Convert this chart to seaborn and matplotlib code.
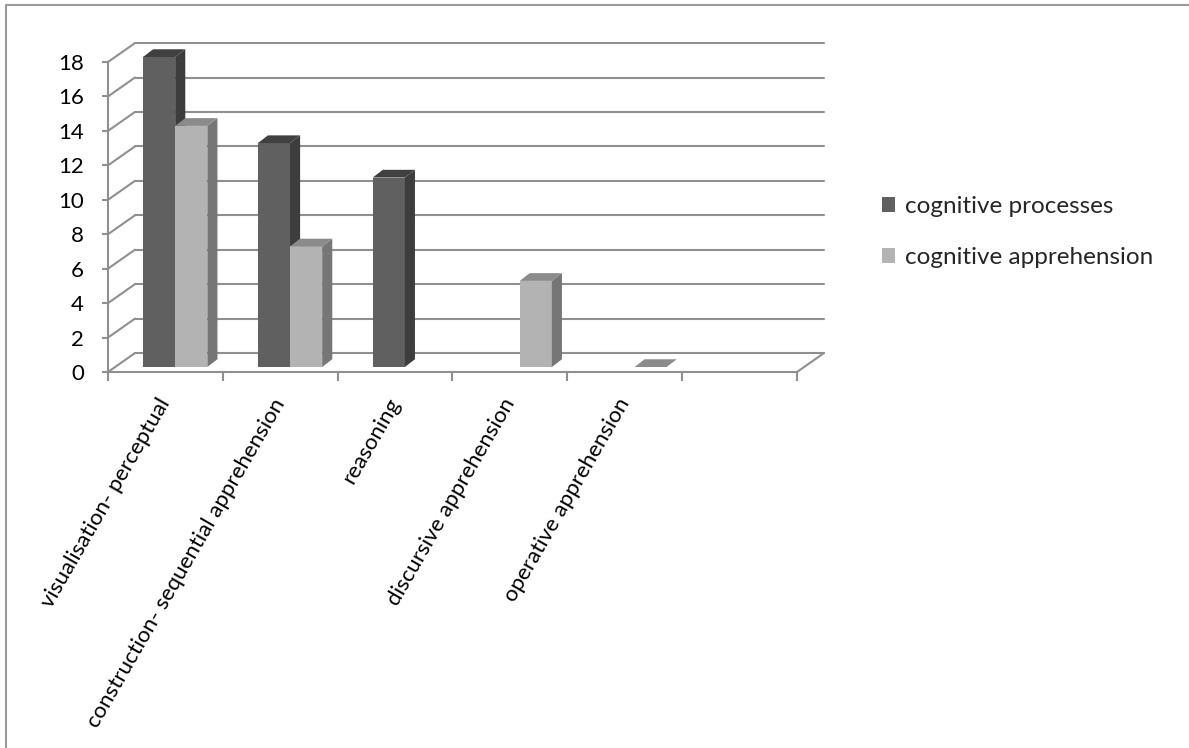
import numpy as np
import pandas as pd
import matplotlib
matplotlib.use("Agg")
import matplotlib.pyplot as plt
from matplotlib.patches import Polygon
from matplotlib.lines import Line2D
from matplotlib.transforms import Affine2D
import seaborn as sns

# ---- data -------------------------------------------------------------
categories = [
    "visualisation- perceptual",
    "construction- sequential apprehension",
    "reasoning",
    "discursive apprehension",
    "operative apprehension",
]
series_names = ["cognitive processes", "cognitive apprehension"]
processes = [18, 13, 11, np.nan, np.nan]
apprehension = [14, 7, np.nan, 5, 0]
y_ticks = list(range(0, 20, 2))

# ---- style ------------------------------------------------------------
sns.set_style("white")
plt.rcParams["font.family"] = ["Lato", "DejaVu Sans"]

GRID = "#8f8f8f"
FRONT = ["#606060", "#b3b3b3"]
SIDE = ["#3d3d3d", "#767676"]
TOP = ["#404040", "#8b8b8b"]
FS_AXIS = 16
FS_LEGEND = 17.5

W, H = 1189, 748
fig = plt.figure(figsize=(W / 100, H / 100), dpi=100)
ax = fig.add_axes([108 / W, (H - 372) / H, 689 / W, 310 / H])

df = pd.DataFrame({
    "category": categories * 2,
    "series": [series_names[0]] * len(categories) + [series_names[1]] * len(categories),
    "count": processes + apprehension,
}).dropna()

sns.barplot(data=df, x="category", y="count", hue="series",
            order=categories, hue_order=series_names,
            palette=FRONT, saturation=1, width=0.56, dodge=True,
            linewidth=0, ax=ax)

n_slots = len(categories) + 1
ax.set_xlim(-0.5, n_slots - 0.5)
ax.set_ylim(0, 18)

# pseudo-3D geometry (in data units)
DX, DY = 0.235, 1.10          # depth of the wall/floor box
SX, SY = 0.085, 0.29          # front face of the columns behind the axis plane
BX, BY = 0.088, 0.45          # thickness of the columns

lw = 1.5
# back wall gridlines and left side wall diagonals
for v in y_ticks:
    ax.add_line(Line2D([-0.5 + DX, n_slots - 0.5 + DX], [v + DY, v + DY],
                       color=GRID, lw=lw, zorder=1, clip_on=False))
    ax.add_line(Line2D([-0.5, -0.5 + DX], [v, v + DY],
                       color=GRID, lw=lw, zorder=1, clip_on=False))
# right edge of the floor
ax.add_line(Line2D([n_slots - 0.5, n_slots - 0.5 + DX], [0, DY],
                   color=GRID, lw=lw, zorder=1, clip_on=False))

# extrude the seaborn bars into columns
for k, container in enumerate(ax.containers):
    for patch in container:
        h = patch.get_height()
        if not np.isfinite(h):
            continue
        patch.set_transform(Affine2D().translate(SX, SY) + ax.transData)
        patch.set_zorder(3 + k)
        patch.set_clip_on(False)
        x0 = patch.get_x() + SX
        x1 = x0 + patch.get_width()
        y0 = patch.get_y() + SY
        y1 = y0 + h
        side = [(x1, y0), (x1 + BX, y0 + BY), (x1 + BX, y1 + BY), (x1, y1)]
        top = [(x0, y1), (x1, y1), (x1 + BX, y1 + BY), (x0 + BX, y1 + BY)]
        ax.add_patch(Polygon(side, closed=True, facecolor=SIDE[k], edgecolor="none",
                             zorder=3 + k, clip_on=False))
        ax.add_patch(Polygon(top, closed=True, facecolor=TOP[k], edgecolor="none",
                             zorder=3 + k, clip_on=False))

# axes lines and ticks
for s in ["top", "right"]:
    ax.spines[s].set_visible(False)
for s in ["left", "bottom"]:
    ax.spines[s].set_color(GRID)
    ax.spines[s].set_linewidth(lw)

ax.set_yticks(y_ticks)
ax.tick_params(axis="y", length=4.3, width=lw, color=GRID, pad=13,
               labelsize=FS_AXIS, labelcolor="black", left=True)
ax.set_xticks(range(len(categories)))
ax.set_xticklabels(categories, rotation=60, ha="right", va="center",
                   rotation_mode="anchor")
ax.set_xticks(np.arange(-0.5, n_slots, 1.0), minor=True)
ax.tick_params(axis="x", which="major", length=0, pad=20, labelsize=FS_AXIS,
               labelcolor="black")
ax.tick_params(axis="x", which="minor", length=6.5, width=lw, color=GRID,
               bottom=True)
ax.set_xlabel("")
ax.set_ylabel("")

sns.move_legend(ax, "center left", bbox_to_anchor=(882 / W, (H - 232) / H),
                bbox_transform=fig.transFigure, frameon=False, title=None,
                fontsize=FS_LEGEND, handlelength=0.55, handleheight=0.55,
                handletextpad=0.4, labelspacing=1.25, borderpad=0,
                borderaxespad=0)

# chart area frame
fig.add_artist(Line2D([6 / W, 6 / W], [0, 1 - 5 / H], color="#9a9a9a", lw=1.5,
                      transform=fig.transFigure))
fig.add_artist(Line2D([6 / W, 1], [1 - 5 / H, 1 - 5 / H], color="#9a9a9a", lw=1.5,
                      transform=fig.transFigure))

fig.savefig("out.png", dpi=100)
